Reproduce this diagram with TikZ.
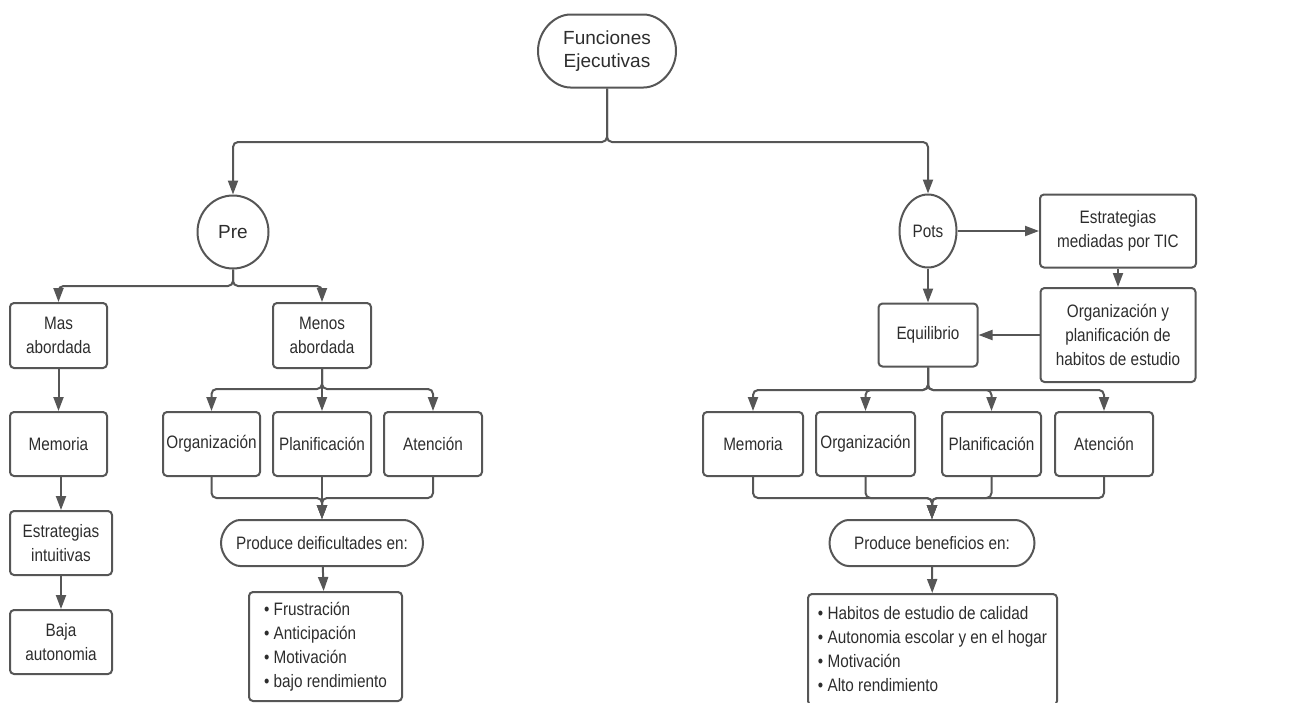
\documentclass[tikz,border=0pt]{standalone}
\usepackage{fontspec}
\setmainfont{Liberation Sans}[FakeStretch=0.85]
\newfontfamily\anchofont{Liberation Sans}
\usepackage{tikz}
\usetikzlibrary{arrows.meta, shapes.geometric, shapes.misc}
\definecolor{gris}{RGB}{86, 86, 86}
\definecolor{texto}{RGB}{45, 45, 45}
\tikzset{
    caja/.style={draw=gris, rectangle, rounded corners=4pt, line width=2pt, text=texto, inner sep=0pt, align=center, font=\fontsize{18}{24}\selectfont},
    capsula/.style={caja, rounded rectangle},
    circulo/.style={caja, ellipse},
    lista/.style={caja, align=left},
    conn/.style={gris, line width=2pt, rounded corners=5pt},
    flecha/.style={conn, -{Triangle[length=14pt, width=10pt]}},
}
\begin{document}
\begin{tikzpicture}[x=1pt, y=-1pt]
    \useasboundingbox (0,0) rectangle (1312,702);
    \node [capsula, minimum width=138, minimum height=73, font=\anchofont\fontsize{19}{23.5}\selectfont] (fe) at (607,51) {Funciones\\Ejecutivas};
    \node [circulo, minimum width=71, minimum height=73, font=\anchofont\fontsize{19}{23.5}\selectfont] (pre) at (233,232) {Pre};
    \node [circulo, minimum width=57, minimum height=73] (pots) at (928,231) {Pots};

    \node [caja, minimum width=97, minimum height=65] (masL) at (58.5,335.5) {Mas\\abordada};
    \node [caja, minimum width=98, minimum height=65] (menL) at (322,335.5) {Menos\\abordada};
    \node [caja, minimum width=97, minimum height=64] (memL) at (58.5,444) {Memoria};
    \node [caja, minimum width=102, minimum height=64] (estrL) at (61,543) {Estrategias\\intuitivas};
    \node [caja, minimum width=102, minimum height=64] (bajaL) at (61,642) {Baja\\autonomia};
    \node [caja, minimum width=97, minimum height=64] (orgL) at (211.5,444) {Organización};
    \node [caja, minimum width=98, minimum height=64] (plaL) at (322,444) {Planificación};
    \node [caja, minimum width=98, minimum height=64] (atenL) at (433,444) {Atención};
    \node [capsula, minimum width=202, minimum height=46] (prodL) at (322,543) {Produce deificultades en:};
    \node [lista, minimum width=153, minimum height=109] (listL) at (325.5,646.5) {• Frustración\\• Anticipación\\• Motivación\\• bajo rendimiento};

    \node [caja, minimum width=156, minimum height=73] (tic) at (1118,231) {Estrategias\\mediadas por TIC};
    \node [caja, minimum width=155, minimum height=94] (orgplan) at (1118,335) {Organización y\\planificación de\\habitos de estudio};
    \node [caja, minimum width=99, minimum height=63] (equi) at (928,335) {Equilibrio};
    \node [caja, minimum width=100, minimum height=64] (memR) at (753,444) {Memoria};
    \node [caja, minimum width=99, minimum height=64] (orgR) at (865.5,444) {Organización};
    \node [caja, minimum width=99, minimum height=64] (plaR) at (991.5,444) {Planificación};
    \node [caja, minimum width=98, minimum height=64] (atenR) at (1104,444) {Atención};
    \node [capsula, minimum width=205, minimum height=46] (prodR) at (932,543) {Produce beneficios en:};
    \node [lista, minimum width=249, minimum height=111, anchor=north] (listR) at (932.5,593) {• Habitos de estudio de calidad\\• Autonomia escolar y en el hogar\\• Motivación\\• Alto rendimiento};

    \coordinate (jTop) at (607,142);
    \coordinate (jPre) at (233,286);
    \coordinate (jMen) at (322,389);
    \coordinate (jEq) at (928,390);
    \coordinate (jProdL) at (322,498);
    \coordinate (jProdR) at (932,498);

    \draw[flecha] (fe.south) -- (jTop) -| (pre.north);
    \draw[flecha] (fe.south) -- (jTop) -| (pots.north);
    \draw[flecha] (pre.south) -- (jPre) -| (masL.north);
    \draw[flecha] (pre.south) -- (jPre) -| (menL.north);
    \draw[flecha] (masL) -- (memL);
    \draw[flecha] (estrL.north |- memL.south) -- (estrL.north);
    \draw[flecha] (estrL) -- (bajaL);
    \draw[flecha] (menL.south) -- (jMen) -| (orgL.north);
    \draw[flecha] (menL.south) -- (plaL.north);
    \draw[flecha] (menL.south) -- (jMen) -| (atenL.north);
    \draw[flecha] (orgL.south) |- (jProdL) -- (prodL.north);
    \draw[flecha] (atenL.south) |- (jProdL) -- (prodL.north);
    \draw[flecha] (plaL) -- (prodL);
    \draw[flecha] (prodL) -- (listL);

    \draw[flecha] (pots) -- (tic);
    \draw[flecha] (pots) -- (equi);
    \draw[flecha] (tic) -- (orgplan);
    \draw[flecha] (orgplan) -- (equi);
    \draw[flecha] (equi.south) -- (jEq) -| (memR.north);
    \draw[flecha] (equi.south) -- (jEq) -| (orgR.north);
    \draw[flecha] (equi.south) -- (jEq) -| (plaR.north);
    \draw[flecha] (equi.south) -- (jEq) -| (atenR.north);
    \draw[flecha] (memR.south) |- (jProdR) -- (prodR.north);
    \draw[flecha] (orgR.south) |- (jProdR) -- (prodR.north);
    \draw[flecha] (plaR.south) |- (jProdR) -- (prodR.north);
    \draw[flecha] (atenR.south) |- (jProdR) -- (prodR.north);
    \draw[flecha] (prodR) -- (listR);
\end{tikzpicture}
\end{document}
